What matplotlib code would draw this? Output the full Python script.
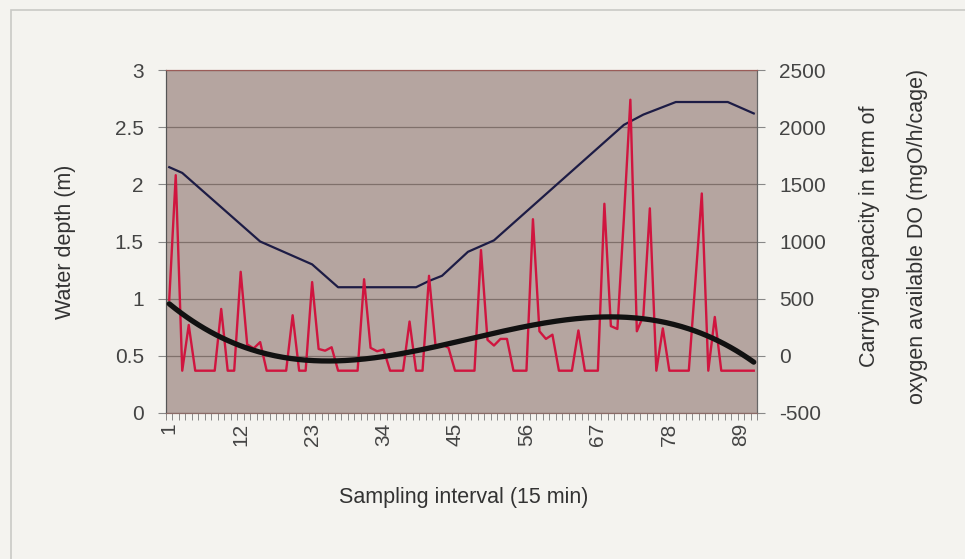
import numpy as np
import matplotlib.pyplot as plt
from matplotlib.patches import Rectangle

plt.rcParams['font.family'] = ['Liberation Sans', 'DejaVu Sans']
plt.rcParams['axes.unicode_minus'] = False

# sampling intervals 1..91
intervals = np.arange(1, 92)

# water depth (m): breakpoints of the line
depth_x = [1, 3, 15, 23, 27, 39, 41, 43, 47, 51, 71, 74, 79, 87, 91]
depth_y = [2.15, 2.10, 1.50, 1.30, 1.10, 1.10, 1.155, 1.20, 1.41, 1.51,
           2.52, 2.61, 2.72, 2.72, 2.62]

# carrying capacity (mgO/h/cage), one value per interval
capacity = [490, 1580, -130, 270, -130, -130, -130, -130, 410, -130,
            -130, 735, 100, 65, 120, -130, -130, -130, -130, 355,
            -130, -130, 645, 60, 45, 75, -130, -130, -130, -130,
            670, 70, 40, 55, -130, -130, -130, 300, -130, -130,
            700, 90, 100, 70, -130, -130, -130, -130, 925, 140,
            90, 148, 148, -130, -130, -130, 1195, 215, 148, 185,
            -130, -130, -130, 222, -130, -130, -130, 1330, 260, 235,
            1200, 2240, 215, 350, 1290, -130, 240, -130, -130, -130,
            -130, 640, 1420, -130, 340, -130, -130, -130, -130, -130,
            -130]

tick_labels = [1, 12, 23, 34, 45, 56, 67, 78, 89]

fig = plt.figure(figsize=(9.65, 5.59), dpi=100)
fig.patch.set_facecolor('#f4f3ef')
fig.patches.append(Rectangle((11 / 965, -0.05), 1.1, 1 - 10 / 559 + 0.05,
                             transform=fig.transFigure, fill=False,
                             edgecolor='#c9c9c6', lw=1.2))

ax = fig.add_axes([166 / 965, 1 - 413 / 559, 591 / 965, 343 / 559])
ax.set_facecolor('#b5a5a0')
ax2 = ax.twinx()

ax.set_ylim(0, 3)
ax.set_yticks(np.arange(0, 3.01, 0.5))
ax.set_yticklabels(['0', '0.5', '1', '1.5', '2', '2.5', '3'])
ax.yaxis.grid(True, color='#7f706b', lw=0.9)
ax.set_axisbelow(True)
ax2.set_ylim(-500, 2500)
ax2.set_yticks(np.arange(-500, 2501, 500))

ax.set_xlim(0.5, 91.5)
ax.set_xticks(tick_labels)
ax.set_xticklabels([str(t) for t in tick_labels], rotation=90)
ax.set_xticks(np.arange(0.5, 92, 1), minor=True)
ax.tick_params(axis='x', which='major', length=0, pad=7)
ax.tick_params(axis='x', which='minor', length=5, color='#777777')

for a in (ax, ax2):
    a.tick_params(axis='y', length=6, color='#888888', labelsize=15,
                  labelcolor='#444444')
    a.tick_params(axis='x', labelsize=15, labelcolor='#444444')
    a.spines['top'].set_color('#9a5c58')
    a.spines['bottom'].set_color('#8a6a66')
    a.spines['left'].set_color('#555555')
    a.spines['right'].set_color('#666666')
ax.tick_params(axis='y', pad=10)
ax2.tick_params(axis='y', pad=10)

ax.plot(depth_x, depth_y, color='#1d1c45', lw=1.6, zorder=3)
ax2.plot(intervals, capacity, color='#d0153f', lw=1.7, zorder=3)

# 3rd-order polynomial trend line of the carrying capacity
coef = np.polyfit(intervals, capacity, 3)
xs = np.linspace(1, 91, 300)
ax2.plot(xs, np.polyval(coef, xs), color='#111111', lw=3.8, zorder=4,
         solid_capstyle='round')

fig.text(66 / 965, 1 - 242 / 559, 'Water depth (m)', rotation=90,
         ha='center', va='center', fontsize=15.5, color='#333333')
fig.text(464 / 965, 1 - 498 / 559, 'Sampling interval (15 min)',
         ha='center', va='center', fontsize=15.5, color='#333333')
fig.text(870 / 965, 1 - 236 / 559, 'Carrying capacity in term of',
         rotation=90, ha='center', va='center', fontsize=15.5, color='#333333')
fig.text(917 / 965, 1 - 236 / 559, 'oxygen available DO (mgO/h/cage)',
         rotation=90, ha='center', va='center', fontsize=15.5, color='#333333')

fig.savefig('out.png', dpi=100, facecolor=fig.get_facecolor())
